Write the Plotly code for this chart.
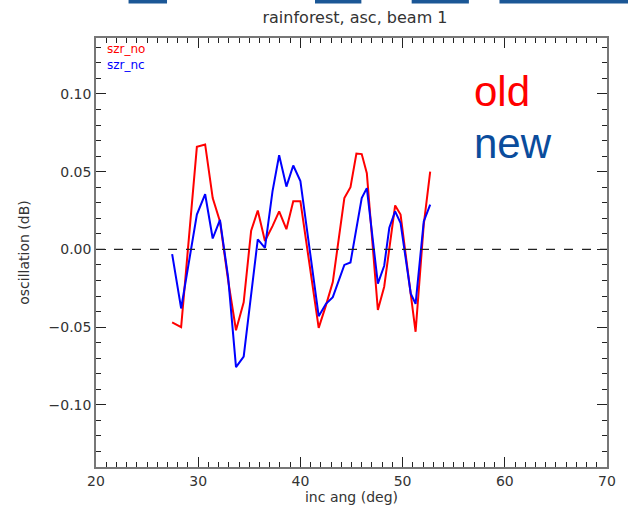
import plotly.graph_objects as go

# incidence angle samples (deg)
inc_ang = [27.45, 28.33, 29.87, 30.68, 31.42, 32.13, 32.93, 33.70, 34.45, 35.18,
           35.83, 36.53, 37.27, 37.92, 38.63, 39.30, 40.00, 41.79, 42.50, 43.17,
           44.30, 44.90, 45.48, 46.00, 46.50, 47.58, 48.20, 48.70, 49.27, 49.80,
           50.80, 51.27, 52.07, 52.70]

# oscillation (dB), old processing
szr_no = [-0.047, -0.050, 0.066, 0.0675, 0.033, 0.018, -0.020, -0.052, -0.034, 0.012,
          0.025, 0.0054, 0.015, 0.0245, 0.013, 0.031, 0.031, -0.0505, -0.036, -0.021,
          0.033, 0.040, 0.0617, 0.0613, 0.049, -0.039, -0.024, 0.000, 0.0283, 0.0224,
          -0.030, -0.053, 0.016, 0.050]

# oscillation (dB), new processing
szr_nc = [-0.003, -0.038, 0.0224, 0.0355, 0.007, 0.019, -0.018, -0.0757, -0.069, -0.027,
          0.0065, 0.001, 0.0373, 0.0606, 0.0404, 0.054, 0.044, -0.043, -0.035, -0.0307,
          -0.010, -0.0084, 0.015, 0.033, 0.0394, -0.022, -0.0105, 0.0139, 0.0245, 0.017,
          -0.0285, -0.035, 0.018, 0.0288]

x_range = [20, 70]
y_range = [-0.14, 0.136]

TXT = "#333333"
FONT = "DejaVu Sans"

fig = go.Figure()
fig.add_trace(go.Scatter(x=inc_ang, y=szr_no, mode="lines", name="szr_no",
                         line=dict(color="#ff0000", width=2)))
fig.add_trace(go.Scatter(x=inc_ang, y=szr_nc, mode="lines", name="szr_nc",
                         line=dict(color="#0000ff", width=2)))

# zero reference line
fig.add_shape(type="line", xref="paper", yref="y", x0=0, x1=1, y0=0, y1=0,
              line=dict(color="#222222", width=1.2, dash="dash"))

# slide banner remnants along the top edge
L, R, T, B = 96, 614, 38, 467
def px(x):
    return (x - L) / (R - L)
def py(y):
    return (B - y) / (B - T)
for a, b in [(129, 168), (318, 365), (416, 474), (505, 640)]:
    fig.add_shape(type="rect", xref="paper", yref="paper",
                  x0=px(a), x1=px(b), y0=py(3.5), y1=py(-2),
                  line=dict(width=0), fillcolor="#1b5796", layer="above")

axis_common = dict(
    showgrid=False, zeroline=False, showline=True, linecolor="#777777",
    linewidth=1.5, mirror="ticks", ticks="inside", ticklen=10, tickwidth=1,
    tickcolor="#222222", tickfont=dict(family=FONT, size=14, color=TXT),
)

fig.update_xaxes(range=x_range, dtick=10, tick0=20,
                 minor=dict(ticks="inside", ticklen=5, dtick=1, tickcolor="#222222"),
                 title=dict(text="inc ang (deg)", font=dict(family=FONT, size=14, color=TXT),
                            standoff=3),
                 **axis_common)
fig.update_yaxes(range=y_range, dtick=0.05, tick0=0, tickformat=".2f",
                 minor=dict(ticks="inside", ticklen=5, dtick=0.01, tickcolor="#222222"),
                 title=dict(text="oscillation (dB)", font=dict(family=FONT, size=14, color=TXT),
                            standoff=16),
                 **axis_common)

# in-plot legend labels (one block, two coloured lines)
fig.add_annotation(
    text='<span style="color:#ff0000">szr_no</span><br>'
         '<span style="color:#0000ff">szr_nc</span>',
    xref="paper", yref="paper", x=px(105), y=py(40),
    xanchor="left", yanchor="top", align="left", showarrow=False,
    font=dict(family=FONT, size=12, color="#ff0000"))

# large labels
fig.add_annotation(text="old", xref="paper", yref="paper", x=px(477), y=py(91),
                   xanchor="left", yanchor="middle", showarrow=False,
                   font=dict(family="Liberation Sans", size=42, color="#ff0000"))
fig.add_annotation(text="new", xref="paper", yref="paper", x=px(477), y=py(143),
                   xanchor="left", yanchor="middle", showarrow=False,
                   font=dict(family="Liberation Sans", size=42, color="#0a4c9c"))

fig.update_layout(
    width=628, height=513,
    margin=dict(l=L, r=628 - R, t=T, b=513 - B),
    paper_bgcolor="white", plot_bgcolor="white",
    showlegend=False,
    title=dict(text="rainforest, asc, beam 1", x=(355) / 628, xanchor="center",
               y=1 - 17 / 513, yanchor="middle",
               font=dict(family=FONT, size=16, color=TXT)),
)

fig.write_html("out.html")
